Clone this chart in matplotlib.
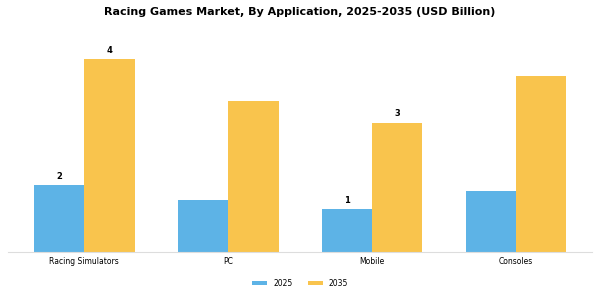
import matplotlib
matplotlib.use("Agg")
import matplotlib.pyplot as plt
import numpy as np

categories = ["Racing Simulators", "PC", "Mobile", "Consoles"]
series_names = ["2025", "2035"]
values_2025 = [1.53, 1.19, 0.98, 1.40]
values_2035 = [4.44, 3.46, 2.97, 4.04]
labels_2025 = ["2", "", "1", ""]
labels_2035 = ["4", "", "3", ""]

colors = ["#5DB3E6", "#F9C44D"]

fig = plt.figure(figsize=(6, 3), dpi=100)
ax = fig.add_axes([0.0133, 0.161, 0.9737, 0.739])

x = np.arange(len(categories))
w = 0.35
b1 = ax.bar(x - w / 2, values_2025, w, color=colors[0], label=series_names[0])
b2 = ax.bar(x + w / 2, values_2035, w, color=colors[1], label=series_names[1])

for bars, labs in ((b1, labels_2025), (b2, labels_2035)):
    for bar, lab in zip(bars, labs):
        if lab:
            ax.annotate(lab, (bar.get_x() + bar.get_width() / 2, bar.get_height()),
                        xytext=(0, 3), textcoords="offset points",
                        ha="center", va="bottom", fontsize=6, fontweight="bold")

ax.set_xlim(-0.53, 3.53)
ax.set_ylim(0, 5.1)
ax.set_xticks(x)
ax.set_xticklabels(categories, fontsize=5.5)
ax.tick_params(axis="x", length=0, pad=3.5)
ax.set_yticks([])
for s in ["top", "right", "left"]:
    ax.spines[s].set_visible(False)
ax.spines["bottom"].set_color("#dddddd")
ax.spines["bottom"].set_linewidth(0.8)

fig.suptitle("Racing Games Market, By Application, 2025-2035 (USD Billion)",
             fontsize=8, fontweight="bold", y=0.96, va="center")

fig.legend(handles=[b1, b2], labels=series_names, loc="center",
           bbox_to_anchor=(0.5, 0.056), ncol=2, frameon=False, fontsize=5.5,
           handlelength=2.0, handleheight=0.5, handletextpad=0.75, columnspacing=2.0)

fig.savefig("out.png", dpi=100)
